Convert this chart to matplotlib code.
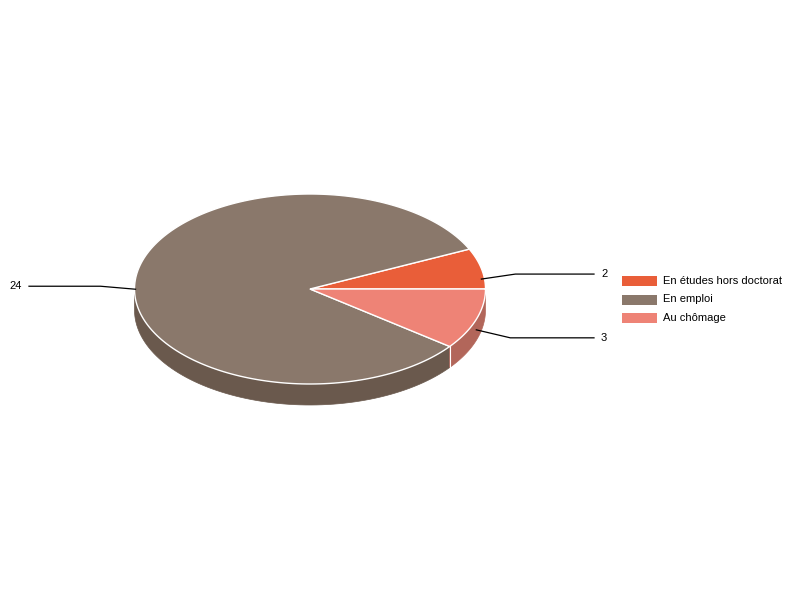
import numpy as np
import matplotlib.pyplot as plt
from matplotlib.patches import Polygon, Rectangle

labels = ["En études hors doctorat", "En emploi", "Au chômage"]
values = [2, 24, 3]
top_colors = ["#E95E39", "#8A786B", "#EE8376"]
side_colors = ["#A8452A", "#6A594D", "#B2665A"]

plt.rcParams['font.family'] = ['Liberation Sans', 'DejaVu Sans']

fig = plt.figure(figsize=(8, 6), dpi=100)
ax = fig.add_axes([0, 0, 1, 1])
ax.set_xlim(0, 800)
ax.set_ylim(600, 0)
ax.axis("off")

cx, cy = 310, 289
rx, ry = 175.5, 95
depth = 21


def rim(t):
    r = np.radians(t)
    return cx + rx * np.cos(r), cy - ry * np.sin(r)


total = sum(values)
starts = np.cumsum([0] + values[:-1]) / total * 360
spans = np.array(values) / total * 360

# side walls (front half only)
for s, w, c in zip(starts, spans, side_colors):
    a0, a1 = max(s, 180), min(s + w, 360)
    if a1 <= a0:
        continue
    t = np.linspace(a0, a1, 80)
    x, y = rim(t)
    pts = np.column_stack([np.r_[x, x[::-1]], np.r_[y, y[::-1] + depth]])
    ax.add_patch(Polygon(pts, closed=True, fc=c, ec=c, lw=0.5, zorder=1))

# boundary lines on the wall
for s in starts:
    if 180 < s < 360:
        x, y = rim(s)
        ax.plot([x, x], [y, y + depth], color="white", lw=0.8, zorder=2)

# top faces
for s, w, c in zip(starts, spans, top_colors):
    t = np.linspace(s, s + w, 200)
    x, y = rim(t)
    pts = np.column_stack([np.r_[cx, x], np.r_[cy, y]])
    ax.add_patch(Polygon(pts, closed=True, fc=c, ec="white", lw=1.0, zorder=3))

# value labels with leader lines
for s, w, v in zip(starts, spans, values):
    mid = s + w / 2
    x0, y0 = rim(mid)
    y0 += depth / 2
    if np.cos(np.radians(mid)) >= 0:
        ex = x0 + 34
        ey = y0 - 5 if mid < 90 else y0 + 8
        ax.plot([x0, ex, 594], [y0, ey, ey], color="black", lw=0.9, zorder=4)
        ax.text(601, ey, str(v), ha="left", va="center", fontsize=8, zorder=4)
    else:
        ex = x0 - 35
        ey = y0 - 3
        ax.plot([x0, ex, 29], [y0, ey, ey], color="black", lw=0.9, zorder=4)
        ax.text(22, ey, str(v), ha="right", va="center", fontsize=8, zorder=4)

# legend
for i, (lab, c) in enumerate(zip(labels, top_colors)):
    ly = 281 + i * 18.5
    ax.add_patch(Rectangle((622, ly - 5), 35, 10, fc=c, ec="none"))
    ax.text(663, ly, lab, ha="left", va="center", fontsize=8)

fig.savefig("out.png", dpi=100)
